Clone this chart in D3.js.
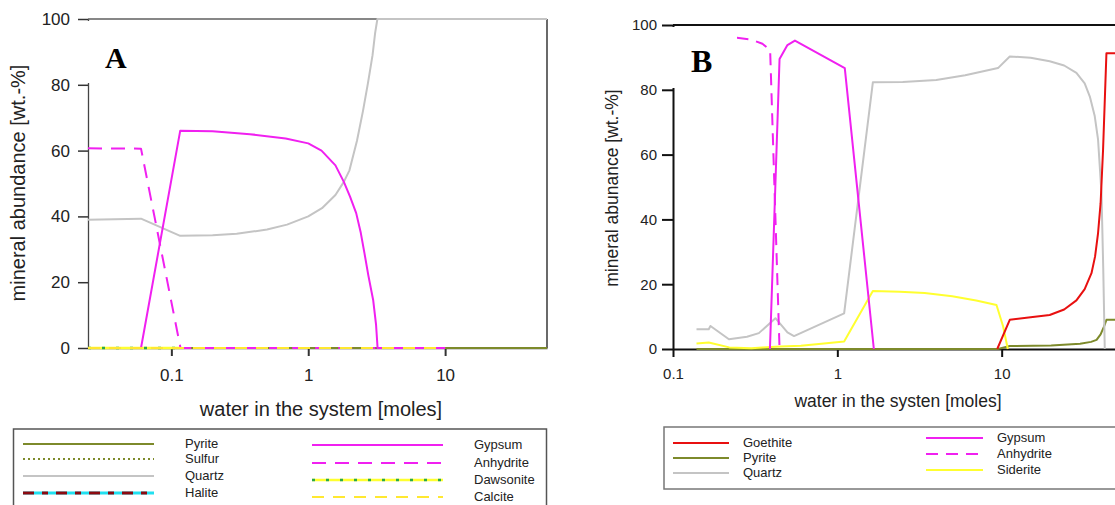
<!DOCTYPE html>
<html>
<head>
<meta charset="utf-8">
<script src="https://cdn.jsdelivr.net/npm/d3@7.9.0/dist/d3.min.js"></script>
<style>
  body { margin: 0; background: #fff; }
  svg { display: block; font-family: Arial, "Liberation Sans", sans-serif; }
</style>
</head>
<body>
<svg id="chart" width="1115" height="505"></svg>
<script>
// ---- data, panel A (x = water [moles], y = wt.-%) ----
const yTicks = [0, 20, 40, 60, 80, 100];
const xTicks = [0.1, 1, 10];

const aPyrite    = [[0.0246, 0], [55.5, 0]];
const aSulfur    = [[0.0246, 0], [55.5, 0]];
const aHalite    = [[0.0246, 0], [55.5, 0]];
const aDawsonite = [[0.0246, 0], [0.116, 0]];
const aCalcite   = [[0.0246, 0], [10, 0]];
const aQuartz    = [[0.0246, 39], [0.060, 39.3], [0.116, 34.1], [0.2, 34.3], [0.3, 34.7], [0.5, 36],
                    [0.7, 37.5], [1, 40], [1.26, 42.5], [1.58, 46.5], [1.82, 50.5], [2.0, 54],
                    [2.27, 63], [2.51, 72], [2.73, 80.5], [2.95, 89], [3.08, 95.7], [3.2, 100], [55.5, 100]];
const aGypsum    = [[0.060, 0], [0.116, 66], [0.2, 65.9], [0.375, 65], [0.684, 63.7], [1, 62.2],
                    [1.25, 60], [1.58, 55.5], [1.82, 50.5], [2.02, 46], [2.24, 41], [2.42, 35],
                    [2.57, 29], [2.75, 22], [2.98, 14.6], [3.13, 7], [3.21, 0], [10, 0]];
const aAnhydrite = [[0.0246, 60.7], [0.060, 60.6], [0.1166, 0], [10, 0]];

// ---- data, panel B ----
const bGoethite  = [[9.4, 0], [11.2, 9], [15, 9.8], [19.6, 10.5], [24, 12.2], [28.5, 15], [32, 18.5],
                    [35.2, 23.4], [37, 28.5], [38.6, 35.8], [40, 45], [41.4, 61.5], [42.5, 78],
                    [43.4, 91.3], [60, 91.3]];
const bPyrite    = [[0.139, 0], [9.5, 0], [11.2, 0.9], [20, 1.1], [30, 1.6], [35, 2.2], [37.8, 2.8],
                    [40, 4.5], [42, 7], [43.4, 9], [60, 9]];
const bQuartz    = [[0.139, 6.1], [0.165, 6.1], [0.169, 7.1], [0.219, 3], [0.282, 3.8], [0.333, 4.9],
                    [0.42, 9.5], [0.497, 5.1], [0.545, 4], [1.1, 11], [1.645, 82.3], [2.5, 82.4],
                    [4, 83], [6, 84.5], [9.5, 86.7], [11.2, 90.3], [15, 89.9], [19.6, 88.8],
                    [24, 87.5], [28.5, 85.2], [32, 82], [34.4, 77.9], [36.8, 72], [38.6, 64.6],
                    [40.5, 48.1], [41.5, 25], [42.4, 0]];
const bGypsum    = [[0.389, 0], [0.445, 89.5], [0.497, 93.8], [0.552, 95.2], [1.11, 86.7], [1.668, 0]];
const bAnhydrite = [[0.139, 96.5], [0.245, 96.1], [0.3, 95.5], [0.35, 94.2], [0.39, 92.3], [0.445, 0]];
const bSiderite  = [[0.139, 1.7], [0.165, 2], [0.22, 0.5], [0.3, 0.2], [0.35, 0.5], [0.45, 0.8],
                    [0.6, 1], [0.8, 1.6], [1.1, 2.3], [1.645, 17.9], [2.4, 17.7], [3.4, 17.3],
                    [5, 16.3], [7, 15], [9.3, 13.6], [10.2, 7], [10.9, 0]];

// ---- styles ----
const OLIVE = '#7d8a2b', MAGENTA = '#f020f0', GREY = '#c4c4c4', YELLOW = '#ffff30';

const panelA = {
  xDomain: [0.0246, 55.5], xRange: [88, 547], yRange: [348, 19],
  series: [
    { name: 'Halite',    data: aHalite,    layers: [{ c: '#22e0f0', w: 2 }, { c: '#8b0a10', w: 2, d: '11,8,6,8' }] },
    { name: 'Sulfur',    data: aSulfur,    layers: [{ c: OLIVE, w: 2, d: '2,3' }] },
    { name: 'Pyrite',    data: aPyrite,    layers: [{ c: OLIVE, w: 2 }] },
    { name: 'Dawsonite', data: aDawsonite, layers: [{ c: YELLOW, w: 2.5 }, { c: '#2aa84a', w: 2.5, d: '3,11' }] },
    { name: 'Quartz',    data: aQuartz,    layers: [{ c: GREY, w: 2 }] },
    { name: 'Gypsum',    data: aGypsum,    layers: [{ c: MAGENTA, w: 2 }] },
    { name: 'Anhydrite', data: aAnhydrite, layers: [{ c: MAGENTA, w: 2, d: '14,9' }] },
    { name: 'Calcite',   data: aCalcite,   layers: [{ c: '#ffe830', w: 2, d: '12,9' }] }
  ]
};

const panelB = {
  xDomain: [0.1, 100], xRange: [673, 1166], yRange: [349, 25],
  series: [
    { name: 'Pyrite',    data: bPyrite,    layers: [{ c: OLIVE, w: 2 }] },
    { name: 'Quartz',    data: bQuartz,    layers: [{ c: GREY, w: 2 }] },
    { name: 'Siderite',  data: bSiderite,  layers: [{ c: YELLOW, w: 2 }] },
    { name: 'Goethite',  data: bGoethite,  layers: [{ c: '#e81010', w: 2 }] },
    { name: 'Anhydrite', data: bAnhydrite, layers: [{ c: MAGENTA, w: 2, d: '12,8' }] },
    { name: 'Gypsum',    data: bGypsum,    layers: [{ c: MAGENTA, w: 2 }] }
  ]
};

const svg = d3.select('#chart');

function strokeLayer(sel, l) {
  sel.attr('fill', 'none').attr('stroke', l.c).attr('stroke-width', l.w)
     .attr('stroke-dasharray', l.d || null).attr('stroke-linejoin', 'round');
}

// panel A ------------------------------------------------------------
{
  const x = d3.scaleLog().domain(panelA.xDomain).range(panelA.xRange);
  const y = d3.scaleLinear().domain([0, 100]).range(panelA.yRange);
  const g = svg.append('g');

  const ya = g.append('g').attr('transform', `translate(${x.range()[0]},0)`)
    .call(d3.axisLeft(y).tickValues(yTicks).tickSize(10).tickPadding(8).tickSizeOuter(0));
  ya.select('.domain').attr('stroke', '#444').attr('stroke-width', 1.3);
  ya.selectAll('.tick line').attr('stroke', '#333').attr('stroke-width', 1.5);
  ya.selectAll('text').attr('font-size', 17).attr('fill', '#222').attr('font-family', null);

  const xa = g.append('g').attr('transform', `translate(0,${y(0)})`)
    .call(d3.axisBottom(x).tickValues(xTicks).tickFormat(d3.format('')).tickSize(8).tickPadding(13).tickSizeOuter(0));
  xa.select('.domain').attr('stroke', '#444').attr('stroke-width', 1.3);
  xa.selectAll('.tick line').attr('stroke', '#333').attr('stroke-width', 2);
  xa.selectAll('text').attr('font-size', 17).attr('fill', '#222').attr('font-family', null);

  // frame
  g.append('line').attr('x1', x.range()[0]).attr('x2', x.range()[1]).attr('y1', y(100)).attr('y2', y(100))
    .attr('stroke', '#111').attr('stroke-width', 1.2);
  g.append('line').attr('x1', x.range()[1]).attr('x2', x.range()[1]).attr('y1', y(100)).attr('y2', y(0))
    .attr('stroke', '#444').attr('stroke-width', 1.6);

  const line = d3.line().x(d => x(d[0])).y(d => y(d[1]));
  panelA.series.forEach(s => s.layers.forEach(l => g.append('path').attr('d', line(s.data)).call(strokeLayer, l)));

  // panel letter box
  g.append('rect').attr('x', 84).attr('y', 21).attr('width', 76).attr('height', 62).attr('fill', '#fff');
  g.append('text').attr('x', 105).attr('y', 68).text('A')
    .attr('font-family', '"Liberation Serif", "Times New Roman", serif').attr('font-weight', 'bold').attr('font-size', 30);

  g.append('text').attr('transform', 'translate(25,183) rotate(-90)').attr('text-anchor', 'middle')
    .attr('font-size', 20).attr('fill', '#222').text('mineral abundance [wt.-%]');
  g.append('text').attr('x', 321).attr('y', 416).attr('text-anchor', 'middle')
    .attr('font-size', 20).attr('fill', '#222').text('water in the system [moles]');

  // legend A
  g.append('rect').attr('x', 13.5).attr('y', 429).attr('width', 533).attr('height', 90)
    .attr('fill', 'none').attr('stroke', '#555').attr('stroke-width', 1.5);
  const legA = [
    { name: 'Pyrite', x1: 23, x2: 154, tx: 185, y: 444 },
    { name: 'Sulfur', x1: 23, x2: 154, tx: 185, y: 459 },
    { name: 'Quartz', x1: 23, x2: 154, tx: 185, y: 476 },
    { name: 'Halite', x1: 23, x2: 154, tx: 185, y: 493 },
    { name: 'Gypsum', x1: 312, x2: 443, tx: 474, y: 445 },
    { name: 'Anhydrite', x1: 312, x2: 443, tx: 474, y: 463 },
    { name: 'Dawsonite', x1: 312, x2: 443, tx: 474, y: 480 },
    { name: 'Calcite', x1: 312, x2: 443, tx: 474, y: 497 }
  ];
  legA.forEach(e => {
    const s = panelA.series.find(d => d.name === e.name);
    s.layers.forEach(l => g.append('line').attr('x1', e.x1).attr('x2', e.x2).attr('y1', e.y).attr('y2', e.y)
      .call(strokeLayer, Object.assign({}, l, { w: e.name === 'Halite' ? 3 : l.w })));
    g.append('text').attr('x', e.tx).attr('y', e.y + 4).attr('font-size', 13).attr('fill', '#222').text(e.name);
  });
}

// panel B ------------------------------------------------------------
{
  const x = d3.scaleLog().domain(panelB.xDomain).range(panelB.xRange);
  const y = d3.scaleLinear().domain([0, 100]).range(panelB.yRange);
  const g = svg.append('g');

  const ya = g.append('g').attr('transform', `translate(${x.range()[0]},0)`)
    .call(d3.axisLeft(y).tickValues(yTicks).tickSize(11).tickPadding(5).tickSizeOuter(0));
  ya.select('.domain').attr('stroke', '#111').attr('stroke-width', 2);
  ya.selectAll('.tick line').attr('stroke', '#111').attr('stroke-width', 2);
  ya.selectAll('text').attr('font-size', 15).attr('fill', '#222').attr('font-family', null);

  const xa = g.append('g').attr('transform', `translate(0,${y(0)})`)
    .call(d3.axisBottom(x).tickValues(xTicks).tickFormat(d3.format('')).tickSize(8).tickPadding(11).tickSizeOuter(0));
  xa.select('.domain').attr('stroke', '#111').attr('stroke-width', 2);
  xa.selectAll('.tick line').attr('stroke', '#111').attr('stroke-width', 2);
  xa.selectAll('text').attr('font-size', 15).attr('fill', '#222').attr('font-family', null);

  g.append('line').attr('x1', x.range()[0]).attr('x2', x.range()[1]).attr('y1', y(100)).attr('y2', y(100))
    .attr('stroke', '#111').attr('stroke-width', 2);

  const line = d3.line().x(d => x(d[0])).y(d => y(d[1]));
  panelB.series.forEach(s => s.layers.forEach(l => g.append('path').attr('d', line(s.data)).call(strokeLayer, l)));

  g.append('rect').attr('x', 670).attr('y', 27).attr('width', 67).attr('height', 61).attr('fill', '#fff');
  g.append('text').attr('x', 691).attr('y', 72).text('B')
    .attr('font-family', '"Liberation Serif", "Times New Roman", serif').attr('font-weight', 'bold').attr('font-size', 32);

  g.append('text').attr('transform', 'translate(618,188) rotate(-90)').attr('text-anchor', 'middle')
    .attr('font-size', 17.5).attr('fill', '#222').text('mineral abunance [wt.-%]');
  g.append('text').attr('x', 898).attr('y', 407).attr('text-anchor', 'middle')
    .attr('font-size', 17.5).attr('fill', '#222').text('water in the systen [moles]');

  g.append('rect').attr('x', 664).attr('y', 427).attr('width', 480).attr('height', 62)
    .attr('fill', 'none').attr('stroke', '#777').attr('stroke-width', 1.5);
  const legB = [
    { name: 'Goethite', x1: 673, x2: 729, tx: 743, y: 443 },
    { name: 'Pyrite', x1: 673, x2: 729, tx: 743, y: 458 },
    { name: 'Quartz', x1: 673, x2: 729, tx: 743, y: 473 },
    { name: 'Gypsum', x1: 926, x2: 983, tx: 997, y: 438 },
    { name: 'Anhydrite', x1: 926, x2: 983, tx: 997, y: 454 },
    { name: 'Siderite', x1: 926, x2: 983, tx: 997, y: 470 }
  ];
  legB.forEach(e => {
    const s = panelB.series.find(d => d.name === e.name);
    s.layers.forEach(l => g.append('line').attr('x1', e.x1).attr('x2', e.x2).attr('y1', e.y).attr('y2', e.y).call(strokeLayer, l));
    g.append('text').attr('x', e.tx).attr('y', e.y + 4).attr('font-size', 13).attr('fill', '#222').text(e.name);
  });
}
</script>
</body>
</html>
